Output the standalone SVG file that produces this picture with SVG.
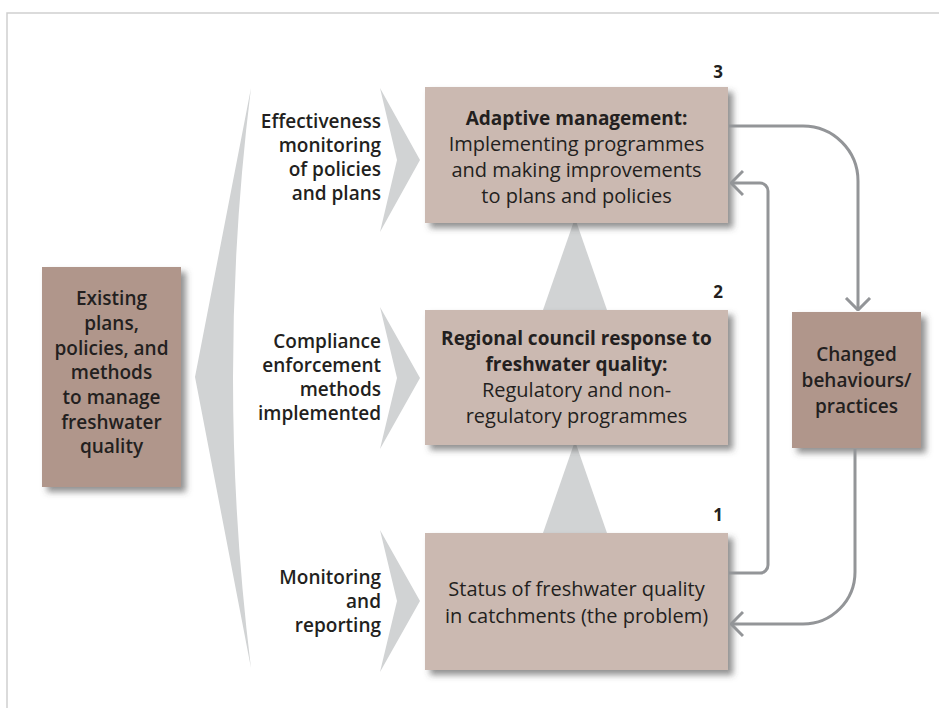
<svg xmlns="http://www.w3.org/2000/svg" width="939" height="708" viewBox="0 0 939 708">
<defs>
<filter id="sh" x="-10%" y="-10%" width="130%" height="130%">
<feDropShadow dx="5" dy="5" stdDeviation="3" flood-color="#4a4a4a" flood-opacity="0.6"/>
</filter>
<marker id="ah" viewBox="0 0 14 28" refX="13" refY="14" markerWidth="14" markerHeight="28" markerUnits="userSpaceOnUse" orient="auto">
<path d="M1,2 L13,14 L1,26" fill="none" stroke="#939598" stroke-width="3"/>
</marker>
</defs>
<style>
.bg{fill:#ffffff}
.frame{fill:none;stroke:#cfcfcf;stroke-width:1.5}
.gray{fill:#d1d3d4}
.lbox{fill:#cbb9b1;filter:url(#sh)}
.dbox{fill:#b0968b;filter:url(#sh)}
.t{font-family:"Open Sans","Liberation Sans",sans-serif;font-size:19px;fill:#231f20;text-anchor:middle}
.reg{font-size:20px}
.b{font-weight:700}
.sb{font-weight:600}
.r{text-anchor:end}
.num{font-family:"Open Sans","Liberation Sans",sans-serif;font-size:17px;font-weight:700;fill:#231f20;text-anchor:middle}
.conn{fill:none;stroke:#939598;stroke-width:3;marker-end:url(#ah)}
</style>
<rect class="bg" x="0" y="0" width="939" height="708"/>
<path class="frame" d="M7,708 V13 H939"/>
<g id="shapes">
<path class="gray" d="M251,88 L195,377 L251,668 Q215,377 251,88 Z"/>
<path class="gray" d="M380,88 L420,160 L380,232 L397,160 Z"/>
<path class="gray" d="M380,307 L420,378 L380,449 L397,378 Z"/>
<path class="gray" d="M380,530 L420,601 L380,672 L397,601 Z"/>
<path class="gray" d="M575,218 L607,310 L543,310 Z"/>
<path class="gray" d="M575,441 L607,533 L543,533 Z"/>
</g>
<g id="labels">
<text class="t sb r" x="381" y="128">Effectiveness</text>
<text class="t sb r" x="381" y="152">monitoring</text>
<text class="t sb r" x="381" y="176">of policies</text>
<text class="t sb r" x="381" y="200">and plans</text>
<text class="t sb r" x="381" y="348">Compliance</text>
<text class="t sb r" x="381" y="372">enforcement</text>
<text class="t sb r" x="381" y="396">methods</text>
<text class="t sb r" x="381" y="420">implemented</text>
<text class="t sb r" x="381" y="584">Monitoring</text>
<text class="t sb r" x="381" y="608">and</text>
<text class="t sb r" x="381" y="632">reporting</text>
</g>
<g id="existing">
<rect class="dbox" x="42" y="267" width="139" height="220"/>
<text class="t sb" x="111.5" y="305">Existing</text>
<text class="t sb" x="111.5" y="330">plans,</text>
<text class="t sb" x="111.5" y="355">policies, and</text>
<text class="t sb" x="111.5" y="379">methods</text>
<text class="t sb" x="111.5" y="404">to manage</text>
<text class="t sb" x="111.5" y="429">freshwater</text>
<text class="t sb" x="111.5" y="453">quality</text>
</g>
<g id="box3">
<rect class="lbox" x="425" y="87" width="303" height="136"/>
<text class="num" x="718" y="78">3</text>
<text class="t b" x="576.5" y="125">Adaptive management:</text>
<text class="t reg" x="576.5" y="151">Implementing programmes</text>
<text class="t reg" x="576.5" y="177">and making improvements</text>
<text class="t reg" x="576.5" y="203">to plans and policies</text>
</g>
<g id="box2">
<rect class="lbox" x="425" y="310" width="303" height="135"/>
<text class="num" x="718" y="298">2</text>
<text class="t b" x="576.5" y="345">Regional council response to</text>
<text class="t b" x="576.5" y="371">freshwater quality:</text>
<text class="t reg" x="576.5" y="397">Regulatory and non-</text>
<text class="t reg" x="576.5" y="423">regulatory programmes</text>
</g>
<g id="box1">
<rect class="lbox" x="425" y="533" width="303" height="137"/>
<text class="num" x="718" y="521">1</text>
<text class="t reg" x="576.5" y="596">Status of freshwater quality</text>
<text class="t reg" x="576.5" y="623">in catchments (the problem)</text>
</g>
<g id="changed">
<rect class="dbox" x="792" y="312" width="129" height="136"/>
<text class="t sb" x="856.5" y="361">Changed</text>
<text class="t sb" x="856.5" y="387">behaviours/</text>
<text class="t sb" x="856.5" y="413">practices</text>
</g>
<g id="connectors">
<path class="conn" d="M729,126 H803 A55,55 0 0 1 858,181 V310"/>
<path class="conn" d="M729,573 H760 A8,8 0 0 0 768,565 V191 A8,8 0 0 0 760,183 H731"/>
<path class="conn" d="M855,449 V572 A52,52 0 0 1 803,624 H731"/>
</g>
</svg>
